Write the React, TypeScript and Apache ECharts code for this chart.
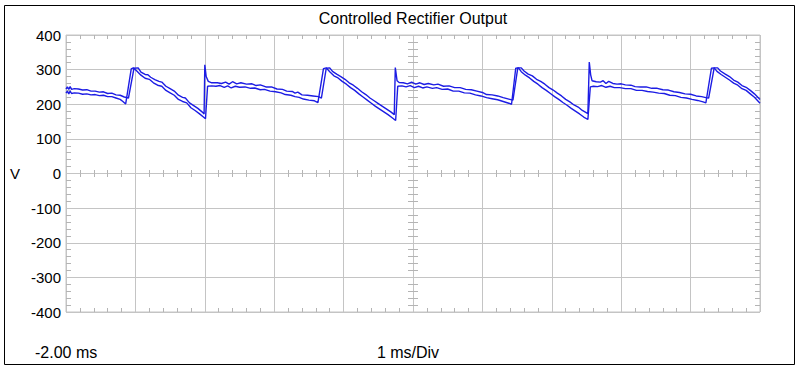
import React, { useEffect, useRef } from "react";
import * as echarts from "echarts";

const TITLE = "Controlled Rectifier Output";
const Y_UNIT = "V";
const X_START_LABEL = "-2.00 ms";
const X_SCALE_LABEL = "1 ms/Div";

const T_MIN = -2;
const T_MAX = 8;
const T_DIV = 1;
const V_MIN = -400;
const V_MAX = 400;
const V_DIV = 100;

// [time in ms, volts] — upper trace of the doubled scope line
const traceUpper: [number, number][] = [
  [-2.0, 244], [-1.98, 250], [-1.96, 243], [-1.94, 251], [-1.92, 243], [-1.88, 245], [-1.82, 244], [-1.76, 241],
  [-1.7, 242], [-1.64, 238], [-1.58, 238], [-1.52, 235], [-1.46, 236], [-1.4, 231], [-1.34, 232], [-1.28, 227],
  [-1.22, 226], [-1.16, 221], [-1.1, 218],
  [-1.02, 304], [-0.96, 305],
  [-0.92, 293], [-0.86, 286], [-0.82, 285], [-0.78, 278], [-0.72, 271], [-0.66, 266], [-0.62, 264], [-0.56, 252],
  [-0.5, 245], [-0.44, 238], [-0.38, 226], [-0.32, 220], [-0.28, 218], [-0.22, 204], [-0.16, 196], [-0.1, 188],
  [-0.04, 178], [-0.01, 172],
  [0.0, 314], [0.02, 280], [0.05, 266], [0.1, 262],
  [0.18, 262], [0.24, 260], [0.3, 264], [0.35, 258], [0.4, 265], [0.46, 259], [0.52, 262], [0.6, 258], [0.68, 259],
  [0.74, 254], [0.8, 256], [0.88, 250], [0.96, 250], [1.04, 244], [1.12, 243], [1.18, 238], [1.26, 237], [1.3, 232],
  [1.34, 235], [1.4, 227], [1.48, 226], [1.56, 224], [1.64, 222], [1.68, 218],
  [1.75, 304], [1.8, 305],
  [1.84, 295], [1.9, 287], [1.96, 280], [2.02, 272], [2.08, 262], [2.14, 255], [2.2, 246], [2.26, 236], [2.32, 228],
  [2.38, 218], [2.44, 210], [2.5, 202], [2.56, 194], [2.62, 186], [2.68, 178], [2.73, 170],
  [2.745, 306], [2.77, 268], [2.8, 263],
  [2.86, 262], [2.92, 259], [2.98, 264], [3.04, 258], [3.1, 262], [3.16, 257], [3.22, 260], [3.3, 256], [3.36, 258],
  [3.44, 252], [3.52, 253], [3.6, 248], [3.68, 248], [3.76, 243], [3.84, 242], [3.92, 238], [4.0, 234], [4.06, 228],
  [4.14, 227], [4.22, 224], [4.3, 219], [4.38, 215], [4.44, 212],
  [4.51, 305], [4.56, 305],
  [4.6, 296], [4.66, 287], [4.72, 282], [4.78, 272], [4.84, 266], [4.9, 258], [4.96, 248], [5.02, 241], [5.08, 232],
  [5.14, 224], [5.2, 214], [5.26, 207], [5.32, 198], [5.38, 192], [5.44, 182], [5.52, 173],
  [5.54, 322], [5.56, 285], [5.58, 268],
  [5.64, 265], [5.7, 264], [5.74, 268], [5.78, 260], [5.82, 266], [5.88, 260], [5.94, 258], [6.0, 259], [6.06, 256],
  [6.14, 255], [6.2, 251], [6.28, 250], [6.36, 250], [6.44, 246], [6.52, 246], [6.6, 242], [6.68, 241], [6.76, 236],
  [6.84, 234], [6.92, 230], [7.0, 229], [7.08, 224], [7.16, 222], [7.22, 219], [7.26, 218],
  [7.34, 305], [7.39, 305],
  [7.43, 296], [7.5, 287], [7.56, 280], [7.62, 270], [7.68, 264], [7.74, 254], [7.8, 249], [7.86, 240], [7.92, 230],
  [8.0, 214],
];

// [time in ms, volts] — lower trace of the doubled scope line
const traceLower: [number, number][] = [
  [-2.0, 232], [-1.98, 238], [-1.96, 230], [-1.94, 238], [-1.92, 231], [-1.88, 233], [-1.82, 232], [-1.76, 229],
  [-1.7, 230], [-1.64, 227], [-1.58, 228], [-1.52, 225], [-1.46, 226], [-1.4, 222], [-1.34, 222], [-1.28, 218],
  [-1.22, 214], [-1.18, 208], [-1.14, 201],
  [-1.06, 302], [-1.03, 305],
  [-0.98, 296], [-0.92, 284], [-0.86, 275], [-0.8, 272], [-0.74, 262], [-0.68, 255], [-0.62, 252], [-0.56, 240],
  [-0.5, 233], [-0.44, 226], [-0.38, 214], [-0.32, 208], [-0.26, 204], [-0.2, 190], [-0.14, 182], [-0.08, 173],
  [-0.02, 163], [0.01, 158],
  [0.04, 252], [0.1, 253],
  [0.16, 252], [0.22, 254], [0.28, 249], [0.33, 253], [0.38, 247], [0.44, 252], [0.5, 249], [0.58, 250], [0.66, 246],
  [0.72, 247], [0.8, 242], [0.86, 243], [0.94, 238], [1.02, 236], [1.1, 233], [1.16, 228], [1.24, 226], [1.3, 222],
  [1.36, 220], [1.42, 215], [1.5, 212], [1.58, 210], [1.63, 205],
  [1.71, 303], [1.75, 305],
  [1.8, 294], [1.86, 282], [1.92, 276], [1.98, 266], [2.04, 258], [2.1, 248], [2.16, 240], [2.22, 230], [2.28, 221],
  [2.34, 212], [2.4, 203], [2.46, 194], [2.52, 186], [2.58, 178], [2.64, 170], [2.7, 161], [2.75, 153],
  [2.78, 252], [2.84, 253], [2.9, 250], [2.96, 254], [3.02, 248], [3.08, 252], [3.14, 247], [3.2, 250], [3.28, 246],
  [3.34, 248], [3.42, 243], [3.5, 244], [3.58, 238], [3.66, 238], [3.74, 233], [3.82, 232], [3.9, 227], [3.98, 224],
  [4.06, 219], [4.14, 216], [4.22, 213], [4.3, 208], [4.38, 203], [4.42, 200],
  [4.48, 304], [4.52, 305],
  [4.56, 294], [4.62, 284], [4.68, 276], [4.74, 266], [4.8, 258], [4.86, 248], [4.92, 240], [4.98, 231], [5.04, 222],
  [5.1, 214], [5.16, 205], [5.22, 197], [5.28, 188], [5.34, 180], [5.4, 172], [5.46, 163], [5.52, 156],
  [5.555, 250], [5.6, 252], [5.66, 251], [5.72, 254], [5.78, 249], [5.84, 252], [5.9, 248], [5.98, 248], [6.06, 245],
  [6.14, 245], [6.22, 240], [6.3, 240], [6.38, 237], [6.46, 235], [6.54, 232], [6.62, 231], [6.7, 226], [6.78, 225],
  [6.86, 220], [6.94, 218], [7.02, 214], [7.1, 211], [7.18, 207], [7.22, 204],
  [7.3, 304], [7.34, 305],
  [7.38, 295], [7.44, 286], [7.5, 278], [7.56, 270], [7.62, 261], [7.68, 255], [7.74, 245], [7.8, 240], [7.86, 230],
  [7.92, 220], [8.0, 203],
];

const GRID_COLOR = "#c4c4c4";
const TICK_COLOR = "#b4b4b4";
const TRACE_COLOR = "#1c1ce4";
const FONT = "'Liberation Sans', Arial, Helvetica, sans-serif";

const PLOT = { left: 66, top: 35, width: 694, height: 277 };

export default function App() {
  const ref = useRef<HTMLDivElement | null>(null);

  useEffect(() => {
    document.body.style.margin = "0";
    if (!ref.current) return;
    const chart = echarts.init(ref.current, undefined, { renderer: "svg" });

    const halfH = PLOT.height / 2;
    const halfW = PLOT.width / 2;
    const tMid = (T_MIN + T_MAX) / 2;

    const off = {
      axisLine: { show: false, onZero: false },
      axisTick: { show: false, inside: true },
      axisLabel: { show: false },
      splitLine: { show: false },
    };
    const minor = (len: number, split: number) => ({
      show: true,
      splitNumber: split,
      length: len,
      lineStyle: { color: TICK_COLOR, width: 1 },
    });

    const option: any = {
      animation: false,
      backgroundColor: "#ffffff",
      grid: [
        { ...PLOT, show: true, borderColor: GRID_COLOR, borderWidth: 1, backgroundColor: "transparent", outerBoundsMode: "none" },
        { left: PLOT.left, top: PLOT.top, width: PLOT.width, height: halfH, outerBoundsMode: "none" },
        { left: PLOT.left, top: PLOT.top + halfH, width: PLOT.width, height: halfH, outerBoundsMode: "none" },
        { left: PLOT.left, top: PLOT.top, width: halfW, height: PLOT.height, outerBoundsMode: "none" },
        { left: PLOT.left + halfW, top: PLOT.top, width: halfW, height: PLOT.height, outerBoundsMode: "none" },
      ],
      xAxis: [
        {
          type: "value", gridIndex: 0, position: "bottom", min: T_MIN, max: T_MAX, interval: T_DIV,
          ...off,
          splitLine: { show: true, lineStyle: { color: GRID_COLOR, width: 1 } },
          minorTick: minor(4, 5),
        },
        {
          type: "value", gridIndex: 0, position: "top", min: T_MIN, max: T_MAX, interval: T_DIV,
          ...off,
          minorTick: minor(4, 5),
        },
        {
          type: "value", gridIndex: 1, position: "bottom", min: T_MIN, max: T_MAX, interval: T_DIV,
          ...off,
          minorTick: minor(3.5, 5),
        },
        {
          type: "value", gridIndex: 2, position: "top", min: T_MIN, max: T_MAX, interval: T_DIV,
          ...off,
          minorTick: minor(3.5, 5),
        },
        { type: "value", gridIndex: 3, min: T_MIN, max: tMid, show: false, axisLine: { onZero: false } },
        { type: "value", gridIndex: 4, min: tMid, max: T_MAX, show: false, axisLine: { onZero: false } },
      ],
      yAxis: [
        {
          type: "value", gridIndex: 0, position: "left", min: V_MIN, max: V_MAX, interval: V_DIV,
          ...off,
          axisLabel: { show: true, margin: 5, color: "#000", fontSize: 15, fontFamily: FONT },
          splitLine: { show: true, lineStyle: { color: GRID_COLOR, width: 1 } },
          minorTick: minor(5, 5),
        },
        {
          type: "value", gridIndex: 0, position: "right", min: V_MIN, max: V_MAX, interval: V_DIV,
          ...off,
          minorTick: minor(5, 5),
        },
        { type: "value", gridIndex: 1, min: 0, max: V_MAX, show: false, axisLine: { onZero: false } },
        { type: "value", gridIndex: 2, min: V_MIN, max: 0, show: false, axisLine: { onZero: false } },
        {
          type: "value", gridIndex: 3, position: "right", min: V_MIN, max: V_MAX, interval: V_DIV,
          ...off,
          minorTick: minor(5, 5),
        },
        {
          type: "value", gridIndex: 4, position: "left", min: V_MIN, max: V_MAX, interval: V_DIV,
          ...off,
          minorTick: minor(5, 5),
        },
      ],
      series: [
        {
          type: "line", xAxisIndex: 0, yAxisIndex: 0, data: traceUpper,
          showSymbol: false, symbol: "none", silent: true, clip: true,
          lineStyle: { color: TRACE_COLOR, width: 1.4 },
        },
        {
          type: "line", xAxisIndex: 0, yAxisIndex: 0, data: traceLower,
          showSymbol: false, symbol: "none", silent: true, clip: true,
          lineStyle: { color: TRACE_COLOR, width: 1.4 },
        },
      ],
      graphic: [
        {
          type: "rect", silent: true,
          shape: { x: 4.5, y: 5.5, width: 790, height: 359 },
          style: { fill: "none", stroke: "#000", lineWidth: 1 },
        },
        {
          type: "text", x: PLOT.left + halfW, y: 18,
          style: { text: TITLE, font: `16px ${FONT}`, fill: "#000", textAlign: "center", textVerticalAlign: "middle", align: "center", verticalAlign: "middle" },
        },
        {
          type: "text", x: 10, y: PLOT.top + halfH,
          style: { text: Y_UNIT, font: `15px ${FONT}`, fill: "#000", textAlign: "left", textVerticalAlign: "middle", align: "left", verticalAlign: "middle" },
        },
        {
          type: "text", x: 35, y: 352,
          style: { text: X_START_LABEL, font: `16px ${FONT}`, fill: "#000", textAlign: "left", textVerticalAlign: "middle", align: "left", verticalAlign: "middle" },
        },
        {
          type: "text", x: 408, y: 352,
          style: { text: X_SCALE_LABEL, font: `16px ${FONT}`, fill: "#000", textAlign: "center", textVerticalAlign: "middle", align: "center", verticalAlign: "middle" },
        },
      ],
    };

    chart.setOption(option);
    return () => {
      chart.dispose();
    };
  }, []);

  return <div ref={ref} style={{ width: 802, height: 372 }} />;
}
